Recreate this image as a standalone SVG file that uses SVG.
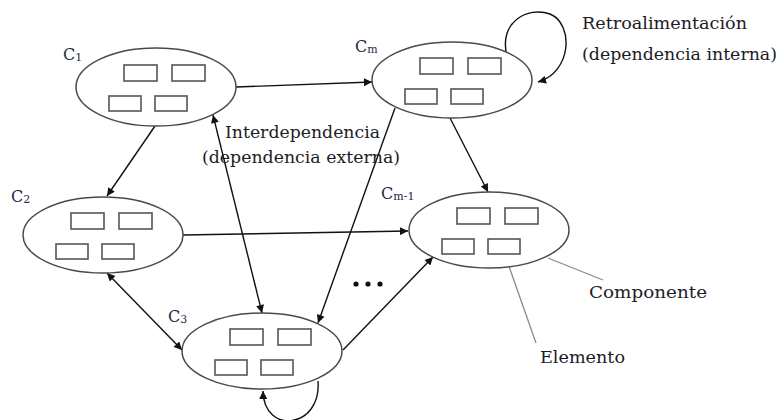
<svg xmlns="http://www.w3.org/2000/svg" width="780" height="420" viewBox="0 0 780 420">
  <style>
    .comp { fill: #fff; stroke: #4a4a4a; stroke-width: 1.5; }
    .elem { fill: #fff; stroke: #555; stroke-width: 1.6; }
    .edge { fill: none; stroke: #111; stroke-width: 1.4; }
    .lead { fill: none; stroke: #8a8a8a; stroke-width: 1.3; }
    .lbl  { font-family: "DejaVu Serif", "Liberation Serif", serif; font-size: 16px; fill: #1f2a44; }
    .sub  { font-size: 11px; }
    .txt  { font-family: "DejaVu Serif", "Liberation Serif", serif; font-size: 17px; fill: #1c1c28; }
  </style>
  <defs>
    <marker id="arrow" viewBox="0 0 10 10" refX="10" refY="5" markerWidth="10" markerHeight="8" markerUnits="userSpaceOnUse" orient="auto-start-reverse">
      <path d="M0,0 L10,5 L0,10 z" fill="#111"/>
    </marker>
    <!-- four elements drawn inside every component -->
    <g id="elements">
      <rect class="elem" x="-32" y="-22" width="33" height="16"/>
      <rect class="elem" x="16" y="-22" width="33" height="16"/>
      <rect class="elem" x="-47" y="9" width="32" height="15"/>
      <rect class="elem" x="-1" y="9" width="32" height="15"/>
    </g>
  </defs>

  <rect width="780" height="420" fill="#fff"/>

  <!-- connectors -->
  <g id="connectors">
    <path class="edge" d="M236,87 L372,82" marker-end="url(#arrow)"/>
    <path class="edge" d="M155,126 L107,196" marker-end="url(#arrow)"/>
    <path class="edge" d="M183,235 L408,231" marker-end="url(#arrow)"/>
    <path class="edge" d="M107,273 L182,350" marker-start="url(#arrow)" marker-end="url(#arrow)"/>
    <path class="edge" d="M213,115 L262,313" marker-start="url(#arrow)" marker-end="url(#arrow)"/>
    <path class="edge" d="M395,108 L318,323" marker-end="url(#arrow)"/>
    <path class="edge" d="M450,118 L488,192" marker-end="url(#arrow)"/>
    <path class="edge" d="M343,350 L433,257" marker-end="url(#arrow)"/>
    <!-- feedback loops -->
    <path class="edge" d="M507,56 C498,22 528,6 550,14 C574,24 572,72 538,82" marker-end="url(#arrow)"/>
    <path class="edge" d="M318,381 C322,428 264,436 263,391" marker-end="url(#arrow)"/>
    <!-- callout leaders -->
    <path class="lead" d="M548,258 L603,280"/>
    <path class="lead" d="M505,255 L536,343"/>
  </g>

  <g id="c1">
    <ellipse class="comp" cx="156" cy="87" rx="80" ry="39"/>
    <use href="#elements" x="156" y="87"/>
    <text class="lbl" x="63" y="60">C<tspan class="sub" dy="1">1</tspan></text>
  </g>

  <g id="cm">
    <ellipse class="comp" cx="452" cy="80" rx="80" ry="38"/>
    <use href="#elements" x="452" y="80"/>
    <text class="lbl" x="355" y="52">C<tspan class="sub" dy="1">m</tspan></text>
  </g>

  <g id="c2">
    <ellipse class="comp" cx="103" cy="235" rx="80" ry="38"/>
    <use href="#elements" x="103" y="235"/>
    <text class="lbl" x="11" y="202">C<tspan class="sub" dy="1">2</tspan></text>
  </g>

  <g id="cm-1">
    <ellipse class="comp" cx="489" cy="230" rx="80" ry="38"/>
    <use href="#elements" x="489" y="230"/>
    <text class="lbl" x="381" y="199">C<tspan class="sub" dy="1">m-1</tspan></text>
  </g>

  <g id="c3">
    <ellipse class="comp" cx="262" cy="351" rx="80" ry="38"/>
    <use href="#elements" x="262" y="351"/>
    <text class="lbl" x="168" y="322">C<tspan class="sub" dy="1">3</tspan></text>
  </g>

  <!-- ellipsis between components -->
  <g id="more" fill="#111">
    <circle cx="356" cy="284" r="2.6"/>
    <circle cx="368" cy="284" r="2.6"/>
    <circle cx="380" cy="284" r="2.6"/>
  </g>

  <!-- annotations -->
  <g id="notes">
    <text class="txt" x="225" y="138" textLength="155" lengthAdjust="spacingAndGlyphs">Interdependencia</text>
    <text class="txt" x="202" y="163" textLength="198" lengthAdjust="spacingAndGlyphs">(dependencia externa)</text>
    <text class="txt" x="582" y="29" textLength="165" lengthAdjust="spacingAndGlyphs">Retroalimentación</text>
    <text class="txt" x="582" y="60" textLength="195" lengthAdjust="spacingAndGlyphs">(dependencia interna)</text>
    <text class="txt" x="589" y="298" textLength="118" lengthAdjust="spacingAndGlyphs">Componente</text>
    <text class="txt" x="540" y="363" textLength="85" lengthAdjust="spacingAndGlyphs">Elemento</text>
  </g>
</svg>
